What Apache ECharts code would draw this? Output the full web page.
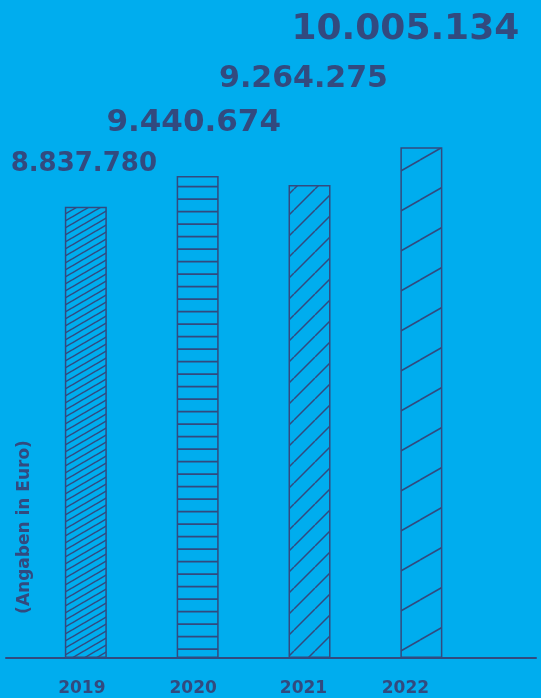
<!DOCTYPE html>
<html><head><meta charset="utf-8">
<script src="https://cdn.jsdelivr.net/npm/echarts@6/dist/echarts.min.js"></script>
<style>html,body{margin:0;padding:0;background:#00adee;}#c{width:541px;height:698px;}</style>
</head><body><div id="c"></div>
<script>
const categories = ['2019', '2020', '2021', '2022'];
const values = [8837780, 9440674, 9264275, 10005134];
const axisTitle = '(Angaben in Euro)';

const BG = '#00adee';
const NAVY = '#324a7f';
const FONT = 'DejaVu Sans';

function fmt(v) { return String(v).replace(/\B(?=(\d{3})+(?!\d))/g, '.'); }

function makePattern(p) {
  const c = document.createElement('canvas');
  c.width = p.w; c.height = p.h;
  const ctx = c.getContext('2d');
  ctx.fillStyle = BG; ctx.fillRect(0, 0, p.w, p.h);
  ctx.strokeStyle = NAVY; ctx.lineWidth = p.lw;
  ctx.beginPath();
  if (p.type === 'h') {
    p.ys.forEach(y => { ctx.moveTo(0, y); ctx.lineTo(p.w, y); });
  } else {
    for (let k = -1; k <= 1; k++) { ctx.moveTo(0, p.h + k * p.h); ctx.lineTo(p.w, k * p.h); }
  }
  ctx.stroke();
  return { image: c, repeat: 'repeat' };
}

// styling per bar (not data)
const barStyles = [
  { pattern: { type: 'd', w: 12, h: 7, lw: 1.5 }, fs: 26, off: [-2, -30] },
  { pattern: { type: 'h', w: 10, h: 25, ys: [11.7, 24.2], lw: 1.7 }, fs: 31, off: [-4, -38] },
  { pattern: { type: 'd', w: 21, h: 21, lw: 1.5 }, fs: 30, off: [-6, -91] },
  { pattern: { type: 'd', w: 70, h: 40, lw: 1.6 }, fs: 36, off: [-16, -100] }
];
const catLabelPad = [8, 9, 12, 32];

const chart = echarts.init(document.getElementById('c'), null, { renderer: 'canvas' });
chart.setOption({
  backgroundColor: BG,
  animation: false,
  grid: [
    { left: 29.9, width: 447.4, top: 45.4, bottom: 40 },
    { left: 6, right: 5, top: 45.4, bottom: 40 }
  ],
  xAxis: [
    {
      type: 'category', gridIndex: 0,
      data: categories.map((c, i) => ({ value: c, textStyle: { padding: [0, catLabelPad[i], 0, 0] } })),
      axisLine: { show: false }, axisTick: { show: false },
      axisLabel: { color: NAVY, fontFamily: FONT, fontWeight: 'bold', fontSize: 17, margin: 22 }
    },
    {
      type: 'value', gridIndex: 1, min: 0, max: 1,
      axisLine: { show: true, onZero: false, lineStyle: { color: NAVY, width: 2 } },
      axisTick: { show: false }, axisLabel: { show: false }, splitLine: { show: false }
    }
  ],
  yAxis: [
    { type: 'value', gridIndex: 0, min: 0, max: 12000000, show: false },
    { type: 'value', gridIndex: 1, min: 0, max: 1, show: false }
  ],
  graphic: [{
    type: 'text', x: 25, y: 527, rotation: Math.PI / 2,
    style: { text: axisTitle, fill: NAVY, font: 'bold 17px "DejaVu Sans"', align: 'center', verticalAlign: 'middle' }
  }],
  series: [{
    type: 'bar', xAxisIndex: 0, yAxisIndex: 0, barWidth: 42,
    data: values.map((v, i) => ({
      value: v,
      itemStyle: { color: makePattern(barStyles[i].pattern), borderColor: NAVY, borderWidth: 1.5 },
      label: {
        show: true, position: 'top', distance: 0, offset: barStyles[i].off,
        formatter: p => fmt(p.value),
        color: NAVY, fontFamily: FONT, fontWeight: 'bold', fontSize: barStyles[i].fs
      }
    }))
  }]
});
</script></body></html>
